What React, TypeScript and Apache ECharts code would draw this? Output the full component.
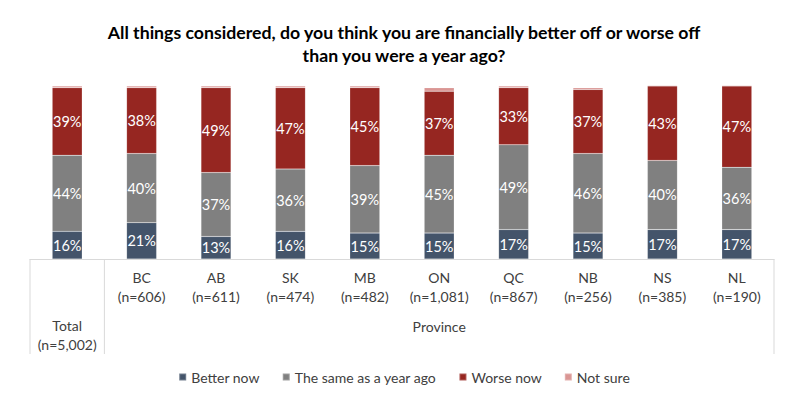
import React, { useEffect, useRef } from 'react';
import * as echarts from 'echarts';

const categories = ['Total', 'BC', 'AB', 'SK', 'MB', 'ON', 'QC', 'NB', 'NS', 'NL'];
const sampleSizes = ['(n=5,002)', '(n=606)', '(n=611)', '(n=474)', '(n=482)', '(n=1,081)', '(n=867)', '(n=256)', '(n=385)', '(n=190)'];
const betterNow = [16, 21, 13, 16, 15, 15, 17, 15, 17, 17];
const sameAsYearAgo = [44, 40, 37, 36, 39, 45, 49, 46, 40, 36];
const worseNow = [39, 38, 49, 47, 45, 37, 33, 37, 43, 47];
const notSure = [1, 1, 1, 1, 1, 2, 1, 1, 0.4, 0.4];
const seriesNames = ['Better now', 'The same as a year ago', 'Worse now', 'Not sure'];
const groupLabel = 'Province';
const titleLines = ['All things considered, do you think you are financially better off or worse off', 'than you were a year ago?'];

const FONT = 'Lato, "Open Sans", sans-serif';
const colors = ['#44546A', '#808080', '#962621', '#DA9694'];

export default function App() {
  const ref = useRef<HTMLDivElement>(null);
  useEffect(() => {
    document.body.style.margin = '0';
    if (!ref.current) return;
    const chart = echarts.init(ref.current, undefined, { renderer: 'svg' });
    const seriesData = [betterNow, sameAsYearAgo, worseNow, notSure];
    const option: any = {
      animation: false,
      textStyle: { fontFamily: FONT },
      title: {
        text: titleLines.join('\n'),
        left: 'center',
        top: 16,
        textStyle: { fontFamily: FONT, fontSize: 17.7, fontWeight: 'bold', color: '#000', lineHeight: 23 },
      },
      legend: {
        bottom: 18,
        left: 'center',
        icon: 'rect',
        itemWidth: 7,
        itemHeight: 7,
        itemGap: 22,
        textStyle: { fontFamily: FONT, fontSize: 14, color: '#404040' },
        data: seriesNames,
      },
      grid: { left: 30, right: 34, top: 86, bottom: 148, containLabel: false },
      xAxis: {
        type: 'category',
        data: categories,
        axisLine: { lineStyle: { color: '#D9D9D9', width: 1 } },
        axisTick: { show: false },
        axisLabel: {
          interval: 0,
          margin: 9,
          formatter: (v: string) => {
            const i = categories.indexOf(v);
            if (i === 0) return `{s| }\n{n|${v}}\n{n|${sampleSizes[i]}}`;
            return `{n|${v}}\n{n|${sampleSizes[i]}}`;
          },
          rich: {
            s: { lineHeight: 48, fontSize: 14 },
            n: { fontFamily: FONT, fontSize: 14, color: '#404040', lineHeight: 19 },
          },
        },
      },
      yAxis: { type: 'value', min: 0, max: 100, show: false },
      series: seriesNames.map((name, si) => ({
        name,
        type: 'bar',
        stack: 'total',
        barWidth: 30,
        clip: false,
        data: seriesData[si],
        itemStyle: { color: colors[si], borderColor: 'rgba(255,255,255,0.25)', borderWidth: 0.5 },
        label: {
          show: si < 3,
          position: 'inside',
          color: '#fff',
          fontFamily: FONT,
          fontSize: 14.5,
          formatter: (p: any) => `${Math.round(p.value)}%`,
        },
      })),
    };
    chart.setOption(option);

    const xs = categories.map((_, i) => chart.convertToPixel({ xAxisIndex: 0 }, i) as number);
    const step = xs[1] - xs[0];
    const baseY = chart.convertToPixel({ yAxisIndex: 0 }, 0) as number;
    const bottomY = baseY + 95;
    const left = xs[0] - step / 2;
    const divider = xs[0] + step / 2;
    const right = xs[xs.length - 1] + step / 2;
    const lineStyle = { stroke: '#D9D9D9', lineWidth: 1 };
    chart.setOption({
      graphic: [
        { type: 'line', shape: { x1: left, y1: baseY, x2: left, y2: bottomY }, style: lineStyle },
        { type: 'line', shape: { x1: divider, y1: baseY, x2: divider, y2: bottomY }, style: lineStyle },
        { type: 'line', shape: { x1: right, y1: baseY, x2: right, y2: bottomY }, style: lineStyle },
        {
          type: 'text',
          x: (divider + right) / 2,
          y: baseY + 67,
          style: { text: groupLabel, fontFamily: FONT, fontSize: 14, fill: '#404040', align: 'center', verticalAlign: 'middle' },
        },
      ],
    });
    return () => chart.dispose();
  }, []);
  return <div ref={ref} style={{ width: 808, height: 407 }} />;
}
